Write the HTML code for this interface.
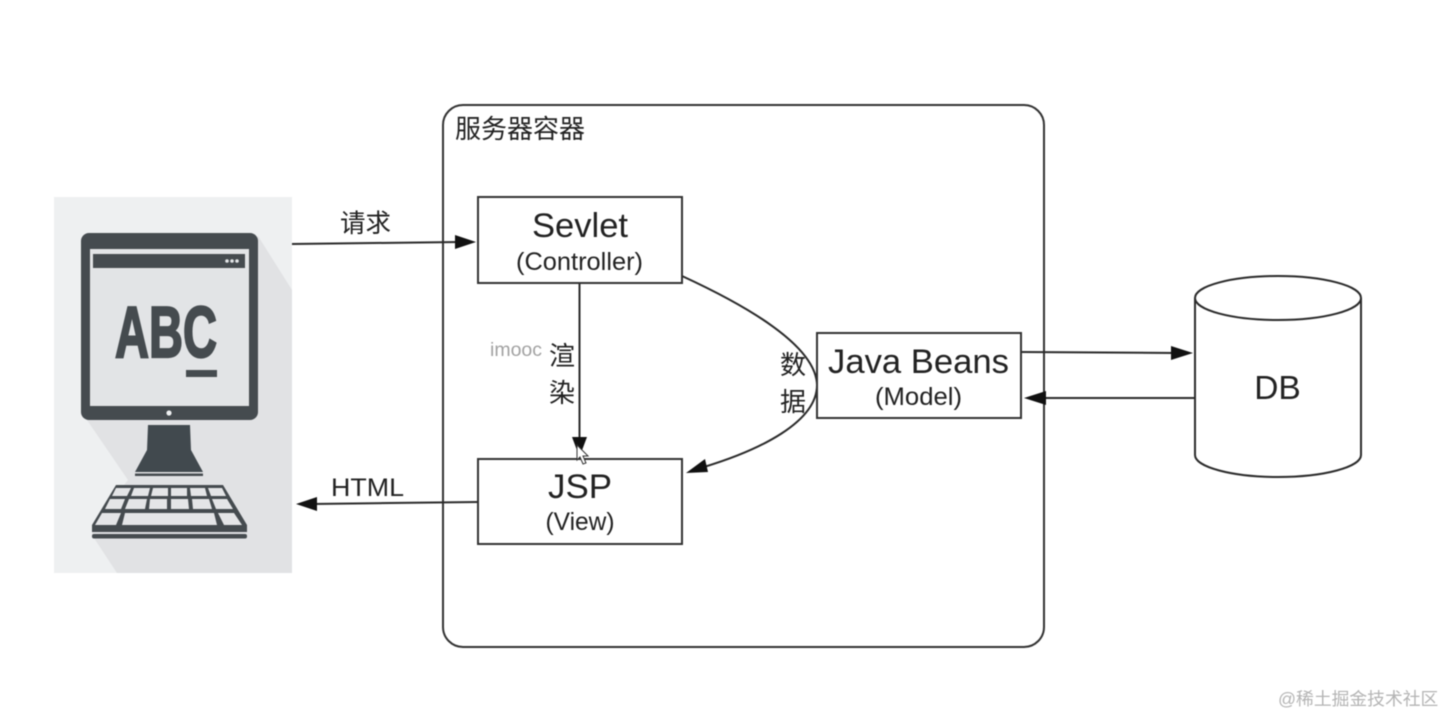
<!DOCTYPE html>
<html>
<head>
<meta charset="utf-8">
<style>
html,body{margin:0;padding:0;background:#fff;width:1444px;height:716px;overflow:hidden}
svg{display:block;filter:blur(.45px)}
text{font-family:"Liberation Sans","Noto Sans CJK SC",sans-serif;fill:#222}
</style>
</head>
<body>
<svg width="1444" height="716" viewBox="0 0 1444 716" xmlns="http://www.w3.org/2000/svg">
<rect width="1444" height="716" fill="#fff"/>

<!-- computer panel -->
<rect x="54" y="197" width="238" height="376" fill="#eef0f1"/>
<polygon points="258,236 292,290 292,573 117,573 92,535 92,525 128,480 87,420" fill="#e1e2e4"/>
<rect x="81" y="233" width="177" height="187" rx="8" fill="#454b4f"/>
<rect x="90" y="249" width="159" height="157" fill="#e2e4e6"/>
<rect x="93" y="254" width="152" height="14" fill="#454b4f"/>
<circle cx="227" cy="261" r="1.8" fill="#e2e4e6"/><circle cx="232" cy="261" r="1.8" fill="#e2e4e6"/><circle cx="237" cy="261" r="1.8" fill="#e2e4e6"/>
<text x="115" y="357" font-size="72" font-weight="700" textLength="102" lengthAdjust="spacingAndGlyphs" style="fill:#454b4f;stroke:#454b4f;stroke-width:2.2px">ABC</text>
<rect x="186" y="370" width="31" height="7" fill="#454b4f"/>
<circle cx="169" cy="413" r="2.6" fill="#eef0f1"/>
<polygon points="148,425 190,425 191,450 203,472 135,472 147,450" fill="#41494e"/>
<rect x="135" y="473.5" width="68" height="2.5" fill="#454b4f"/>
<!-- keyboard -->
<polygon points="116,485 223,485 247,525 247,532 92,532 92,525" fill="#454b4f"/>
<rect x="92" y="534" width="155" height="4.5" rx="2" fill="#454b4f"/>
<g fill="#e4e5e7">
<polygon points="116,488 131,488 127,496 112,496"/><polygon points="134,488 150,488 148,496 131,496"/><polygon points="153,488 168,488 168,496 151,496"/><polygon points="171,488 187,488 187,496 171,496"/><polygon points="190,488 205,488 207,496 191,496"/><polygon points="208,488 222,488 226,496 211,496"/>
<polygon points="110,499 125,499 121,509 105,509"/><polygon points="129,499 147,499 145,509 125,509"/><polygon points="150,499 167,499 167,509 149,509"/><polygon points="171,499 188,499 189,509 171,509"/><polygon points="192,499 209,499 212,509 193,509"/><polygon points="212,499 227,499 233,509 216,509"/>
<polygon points="102,513 121,513 116,525 95,525"/><polygon points="125,513 214,513 217,525 122,525"/><polygon points="218,513 234,513 242,525 224,525"/>
</g>

<!-- server container -->
<rect x="443" y="105" width="601" height="542" rx="20" fill="#fff" stroke="#333" stroke-width="2"/>
<text x="455" y="138" font-size="26">服务器容器</text>

<!-- connectors -->
<g fill="none" stroke="#2b2b2b" stroke-width="2">
<line x1="292" y1="244" x2="460" y2="242"/>
<line x1="579.5" y1="283" x2="579.5" y2="440"/>
<path d="M682,276 C745,305 816,345 817,385 C817,422 760,450 704,467"/>
<line x1="478" y1="502" x2="312" y2="504"/>
<line x1="1021" y1="352" x2="1176" y2="353"/>
<line x1="1195" y1="398" x2="1040" y2="398"/>
</g>
<g fill="#111">
<polygon points="476,242 455,235 455,249"/>
<polygon points="579.5,457 572,437 587,437"/>
<polygon points="686,473 705,459 708,472"/>
<polygon points="296,504 317,497 317,511"/>
<polygon points="1193,353 1171,346 1171,360"/>
<polygon points="1024,398 1046,391 1046,405"/>
</g>

<!-- boxes -->
<g fill="#fff" stroke="#333" stroke-width="2">
<rect x="478" y="197" width="204" height="86"/>
<rect x="478" y="459" width="204" height="85"/>
<rect x="817" y="333" width="204" height="85"/>
</g>

<text x="580" y="237" font-size="34" text-anchor="middle" textLength="96" lengthAdjust="spacingAndGlyphs">Sevlet</text>
<text x="579.5" y="270" font-size="25" text-anchor="middle" textLength="127" lengthAdjust="spacingAndGlyphs">(Controller)</text>
<text x="580" y="498" font-size="34.5" text-anchor="middle" textLength="64" lengthAdjust="spacingAndGlyphs">JSP</text>
<text x="580" y="530" font-size="25" text-anchor="middle" textLength="69" lengthAdjust="spacingAndGlyphs">(View)</text>
<text x="918.5" y="373" font-size="34" text-anchor="middle" textLength="181" lengthAdjust="spacingAndGlyphs">Java Beans</text>
<text x="918.5" y="405" font-size="25" text-anchor="middle" textLength="87" lengthAdjust="spacingAndGlyphs">(Model)</text>

<text x="340" y="232" font-size="25.5">请求</text>
<text x="331" y="496" font-size="25" textLength="73" lengthAdjust="spacingAndGlyphs">HTML</text>
<text x="490" y="356" font-size="19.5" style="fill:#a2a2a2">imooc</text>
<text x="549" y="365" font-size="26">渲</text>
<text x="549" y="402" font-size="26">染</text>
<text x="780" y="374" font-size="26">数</text>
<text x="780" y="411" font-size="26">据</text>

<!-- mouse cursor -->
<polygon points="577,445 577,460 580,457 583,464 586,463 583,456 588,456" fill="#fff" stroke="#333" stroke-width="1"/>

<!-- DB -->
<path d="M1195,298 V455 C1195,467 1232,477 1278,477 C1324,477 1361,467 1361,455 V298" fill="#fff" stroke="#2b2b2b" stroke-width="2"/>
<ellipse cx="1278" cy="298" rx="83" ry="22" fill="#fff" stroke="#2b2b2b" stroke-width="2"/>
<text x="1277.5" y="399" font-size="33.5" text-anchor="middle">DB</text>

<!-- watermark -->
<text x="1278" y="705" font-size="17.8" style="fill:#b4b4b4">@稀土掘金技术社区</text>
</svg>
</body>
</html>
